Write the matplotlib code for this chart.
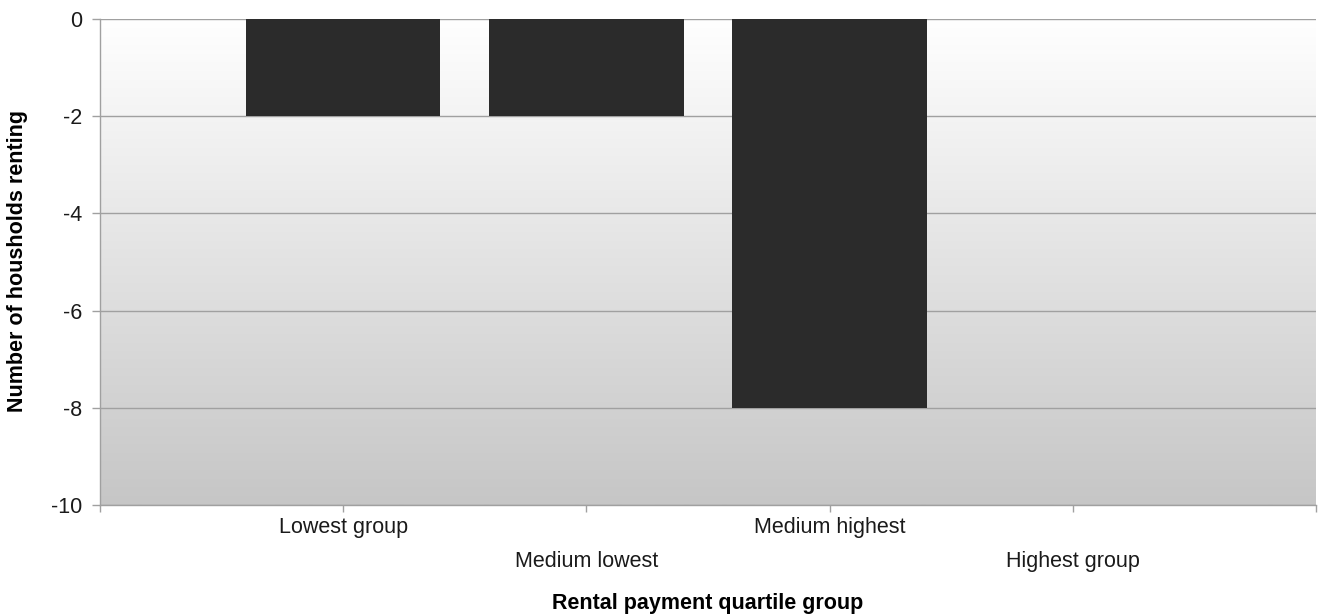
import matplotlib
matplotlib.use("Agg")
import matplotlib.pyplot as plt
import numpy as np
from matplotlib.colors import LinearSegmentedColormap

categories = ["Lowest group", "Medium lowest", "Medium highest", "Highest group"]
values = [-2, -2, -8, 0]
y_ticks = [0, -2, -4, -6, -8, -10]

plt.rcParams['font.family'] = ['Liberation Sans', 'DejaVu Sans']
plt.rcParams['axes.unicode_minus'] = False

FS = 15.5

fig = plt.figure(figsize=(13.26, 6.15), dpi=100)
ax = fig.add_axes([100/1326, 1-505/615, 1216/1326, 486/615])

# gradient background
grad = np.linspace(0, 1, 256).reshape(-1, 1)
cmap = LinearSegmentedColormap.from_list("g", ["#ffffff", "#c6c6c6"])
ax.imshow(grad, extent=[0, 1, 0, 1], transform=ax.transAxes, cmap=cmap,
          aspect='auto', zorder=0, origin='upper')

x = np.arange(1, len(categories) + 1)
ax.bar(x, values, width=0.8, color="#2b2b2b", zorder=3)

ax.set_xlim(0, len(categories) + 1)
ax.set_ylim(-10, 0)
ax.set_yticks(y_ticks)
ax.set_yticklabels([str(v) for v in y_ticks], fontsize=FS, color="#1a1a1a")
ax.yaxis.grid(True, color="#a0a0a0", linewidth=1, zorder=1)

xt = [0] + list(x) + [len(categories) + 1]
ax.set_xticks(xt)
ax.set_xticklabels([""] + categories + [""], fontsize=FS, color="#1a1a1a")

ax.tick_params(axis='both', color="#a0a0a0", width=1)
ax.tick_params(axis='y', length=6, pad=7)
ax.tick_params(axis='x', length=5)
ticks = ax.xaxis.get_major_ticks()
for i, t in enumerate(ticks):
    if 1 <= i <= len(categories):
        t.set_pad(4 if i % 2 == 1 else 28)

for s in ['top', 'right']:
    ax.spines[s].set_visible(False)
for s in ['left', 'bottom']:
    ax.spines[s].set_color("#a0a0a0")
    ax.spines[s].set_linewidth(1)

fig.text(18/1326, 1-261/615, "Number of housholds renting", rotation=90,
         fontsize=FS, fontweight='bold', ha='center', va='center')
fig.text(708/1326, 1-603/615, "Rental payment quartile group",
         fontsize=FS, fontweight='bold', ha='center', va='center')

fig.savefig("out.png", dpi=100)
